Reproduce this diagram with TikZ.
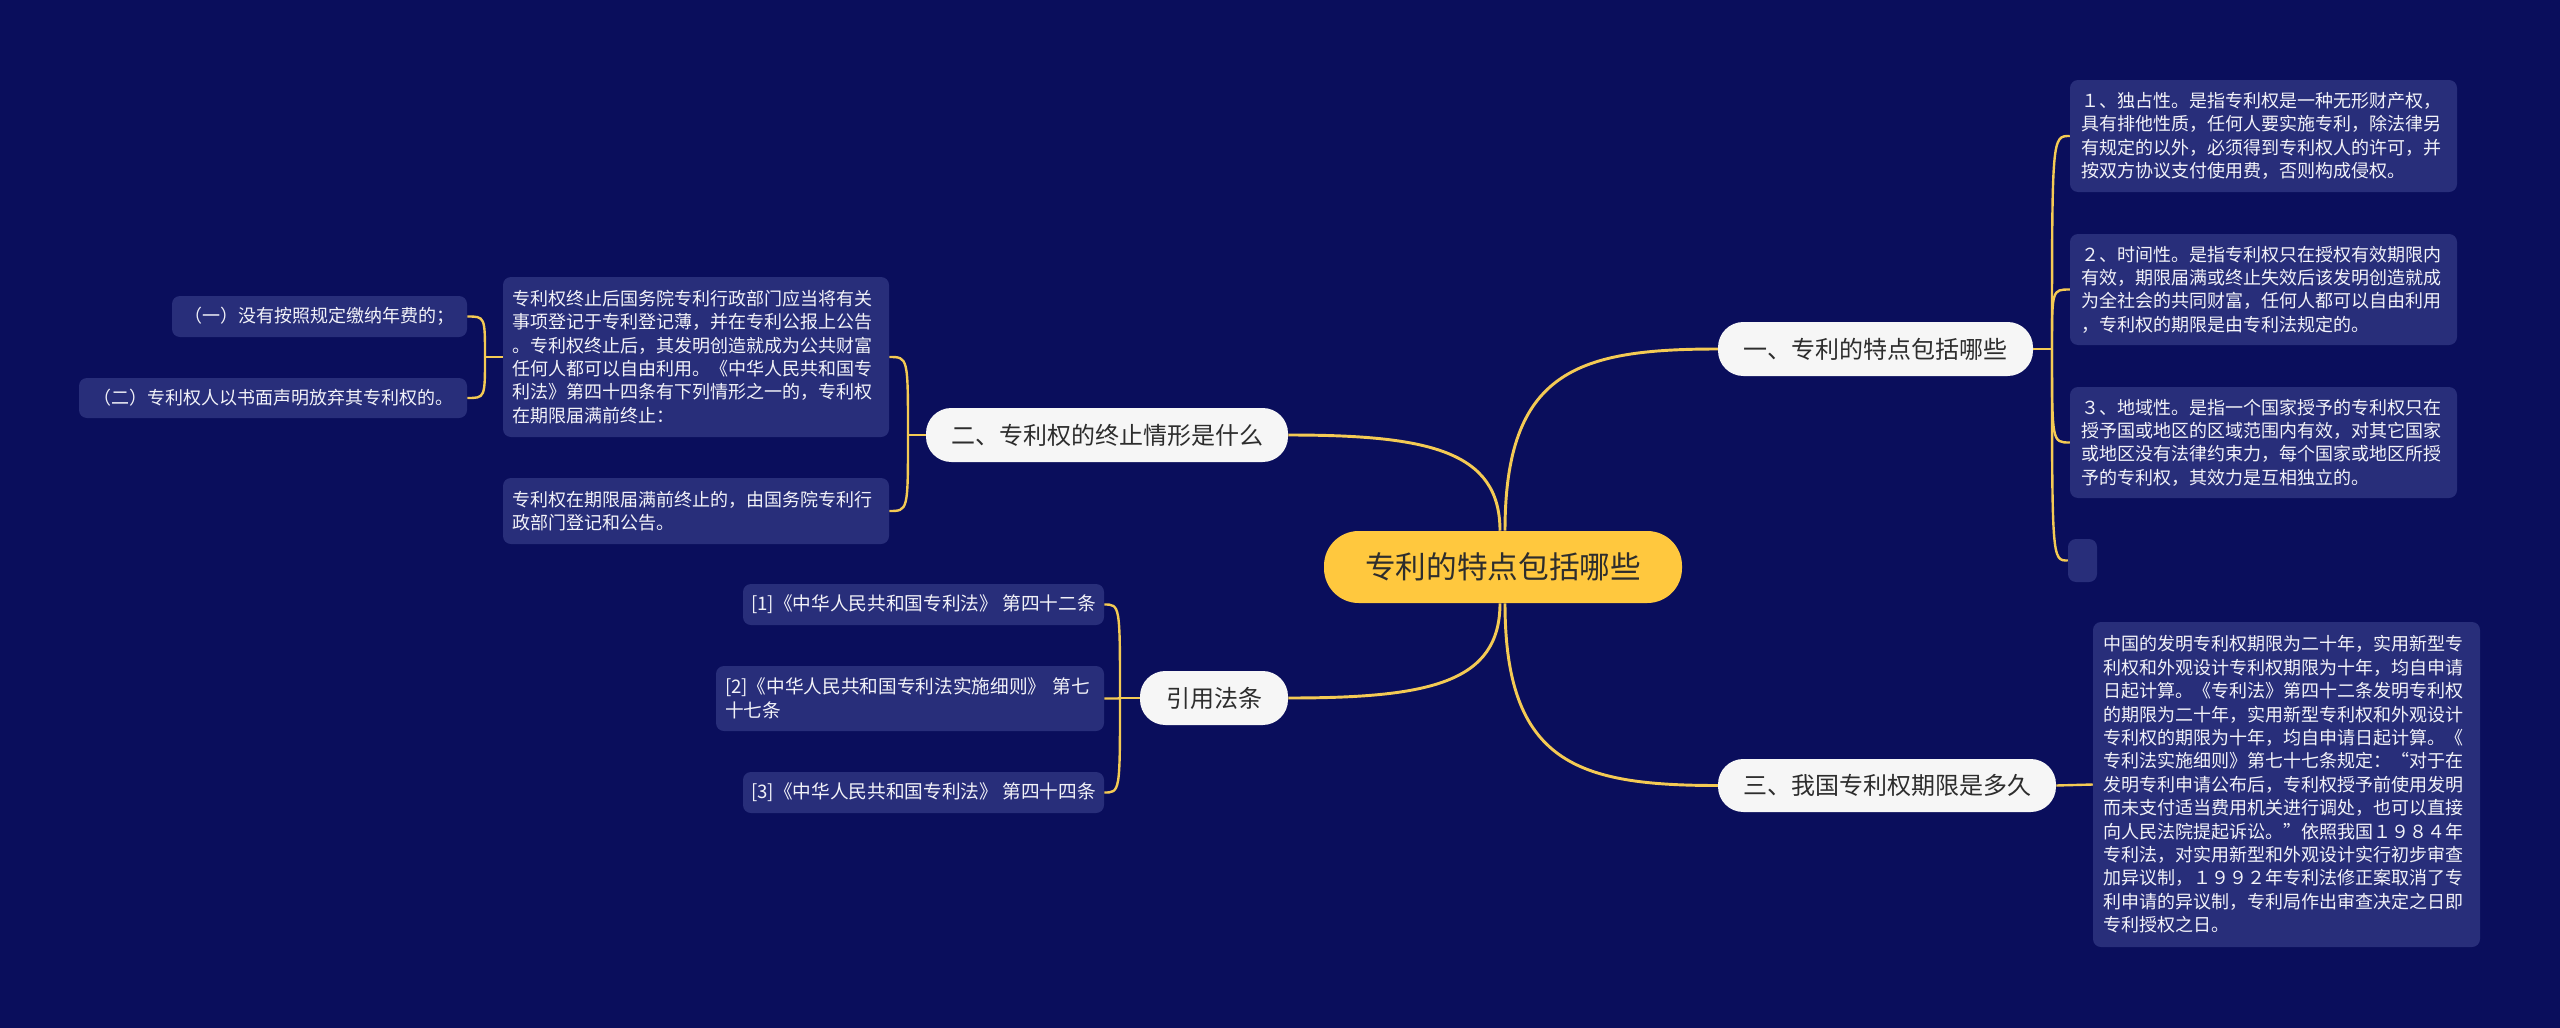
\documentclass[tikz,border=0pt]{standalone}
\usepackage{fontspec}
\setmainfont{Noto Sans CJK SC}
\usetikzlibrary{calc}
\definecolor{bg}{RGB}{10,14,92}
\definecolor{leaffill}{RGB}{40,46,122}
\definecolor{edgey}{RGB}{244,202,84}
\definecolor{rootfill}{RGB}{255,200,62}
\definecolor{brfill}{RGB}{246,246,246}
\definecolor{darktext}{RGB}{45,45,45}
\definecolor{leaftext}{RGB}{242,242,248}
\def\pxl{0.75pt}
\begin{document}
\begin{tikzpicture}[x=0.75pt,y=-0.75pt,
  wh/.style 2 args={minimum width=#1*\pxl,minimum height=#2*\pxl},
  tw/.style={text width=#1*\pxl},
  leafbox/.style={fill=leaffill,rounded corners=6pt,text=leaftext,inner ysep=0pt,inner xsep=11*\pxl,
    align=left,font=\fontsize{13.5pt}{17.55pt}\selectfont},
  smallbox/.style={fill=leaffill,rounded corners=6pt,text=leaftext,inner sep=0pt,
    align=center,font=\fontsize{13.5pt}{17.55pt}\selectfont},
  refbox/.style={smallbox,font=\fontsize{14pt}{17.8pt}\selectfont},
  brbox/.style={fill=brfill,rounded corners=19pt,text=darktext,inner sep=0pt,
    font=\fontsize{18pt}{22pt}\selectfont},
  rootbox/.style={fill=rootfill,rounded corners=26pt,text=darktext,inner sep=0pt,
    font=\fontsize{23pt}{28pt}\selectfont},
  redge/.style={draw=edgey,line width=2.2pt},
  ledge/.style={draw=edgey,line width=1.8pt}
]
\useasboundingbox[fill=bg] (0,0) rectangle (2560,1028);

% root and branches
\node[rootbox,wh={358}{72}] (root) at (1503,567) {专利的特点包括哪些};
\node[brbox,wh={315}{54}] (b1) at (1875.5,349) {一、专利的特点包括哪些};
\node[brbox,wh={362}{54}] (b2) at (1107,435) {二、专利权的终止情形是什么};
\node[brbox,wh={148}{54}] (b3) at (1214,698) {引用法条};
\node[brbox,wh={338}{53}] (b4) at (1887,785.5) {三、我国专利权期限是多久};

% branch 1 leaves
\node[leafbox,tw={365},minimum height=112*\pxl] (l1) at (2263.5,136) {１、独占性。是指专利权是一种无形财产权，\\具有排他性质，任何人要实施专利，除法律另\\有规定的以外，必须得到专利权人的许可，并\\按双方协议支付使用费，否则构成侵权。};
\node[leafbox,tw={365},minimum height=111*\pxl] (l2) at (2263.5,289.5) {２、时间性。是指专利权只在授权有效期限内\\有效，期限届满或终止失效后该发明创造就成\\为全社会的共同财富，任何人都可以自由利用\\，专利权的期限是由专利法规定的。};
\node[leafbox,tw={365},minimum height=111*\pxl] (l3) at (2263.5,442.5) {３、地域性。是指一个国家授予的专利权只在\\授予国或地区的区域范围内有效，对其它国家\\或地区没有法律约束力，每个国家或地区所授\\予的专利权，其效力是互相独立的。};
\node[fill=leaffill,rounded corners=6pt,inner sep=0pt,wh={29}{43}] (l4) at (2082.5,560.5) {};

% branch 4 leaf
\node[leafbox,tw={367},minimum height=325*\pxl,inner xsep=10*\pxl] (l5) at (2286.5,784.5) {中国的发明专利权期限为二十年，实用新型专\\利权和外观设计专利权期限为十年，均自申请\\日起计算。《专利法》第四十二条发明专利权\\的期限为二十年，实用新型专利权和外观设计\\专利权的期限为十年，均自申请日起计算。《\\专利法实施细则》第七十七条规定：“对于在\\发明专利申请公布后，专利权授予前使用发明\\而未支付适当费用机关进行调处，也可以直接\\向人民法院提起诉讼。”依照我国１９８４年\\专利法，对实用新型和外观设计实行初步审查\\加异议制，１９９２年专利法修正案取消了专\\利申请的异议制，专利局作出审查决定之日即\\专利授权之日。};

% branch 2 leaves
\node[leafbox,tw={368},minimum height=160*\pxl,inner xsep=9*\pxl] (la) at (696,357) {专利权终止后国务院专利行政部门应当将有关\\事项登记于专利登记薄，并在专利公报上公告\\。专利权终止后，其发明创造就成为公共财富\\任何人都可以自由利用。《中华人民共和国专\\利法》第四十四条有下列情形之一的，专利权\\在期限届满前终止：};
\node[leafbox,tw={368},minimum height=66*\pxl,inner xsep=9*\pxl] (lb) at (696,511) {专利权在期限届满前终止的，由国务院专利行\\政部门登记和公告。};
\node[smallbox,wh={295}{41}] (s1) at (319.5,316.5) {（一）没有按照规定缴纳年费的；};
\node[smallbox,wh={388}{40}] (s2) at (273,398) {（二）专利权人以书面声明放弃其专利权的。};

% branch 3 leaves
\node[refbox,wh={361}{41}] (r1) at (923.5,604.5) {[1]《中华人民共和国专利法》 第四十二条};
\node[leafbox,tw={370},minimum height=65*\pxl,inner xsep=9*\pxl,font=\fontsize{14pt}{17.8pt}\selectfont] (r2) at (910,698.5) {[2]《中华人民共和国专利法实施细则》 第七\\十七条};
\node[refbox,wh={361}{41}] (r3) at (923.5,792.5) {[3]《中华人民共和国专利法》 第四十四条};

% spine coordinates
\coordinate (sp1) at (2052,349);
\coordinate (sp2) at (908,435);
\coordinate (sp3) at (485,357);
\coordinate (sp4) at (1120,698);

% root connectors
\draw[redge] ([xshift=2*\pxl]root.north) .. controls +(0,-160) and +(-140,0) .. (b1.west);
\draw[redge] (b2.east) .. controls +(140,0) and +(0,-80) .. ([xshift=-3*\pxl]root.north);
\draw[redge] (b3.east) .. controls +(140,0) and +(0,80) .. ([xshift=-3*\pxl]root.south);
\draw[redge] ([xshift=2*\pxl]root.south) .. controls +(0,160) and +(-140,0) .. (b4.west);

% branch 1 leaves
\draw[ledge] (b1.east) -- (sp1);
\foreach \n in {l1,l2,l3,l4}{
  \draw[ledge] (sp1) .. controls (sp1 |- \n.west) .. (\n.west);
}
% branch 4
\draw[ledge] (b4.east) -- (l5.west);
% branch 2
\draw[ledge] (b2.west) -- (sp2);
\foreach \n in {la,lb}{
  \draw[ledge] (sp2) .. controls (sp2 |- \n.east) .. (\n.east);
}
\draw[ledge] (la.west) -- (sp3);
\foreach \n in {s1,s2}{
  \draw[ledge] (sp3) .. controls (sp3 |- \n.east) .. (\n.east);
}
% branch 3
\draw[ledge] (b3.west) -- (sp4);
\foreach \n in {r1,r2,r3}{
  \draw[ledge] (sp4) .. controls (sp4 |- \n.east) .. (\n.east);
}
\end{tikzpicture}
\end{document}
